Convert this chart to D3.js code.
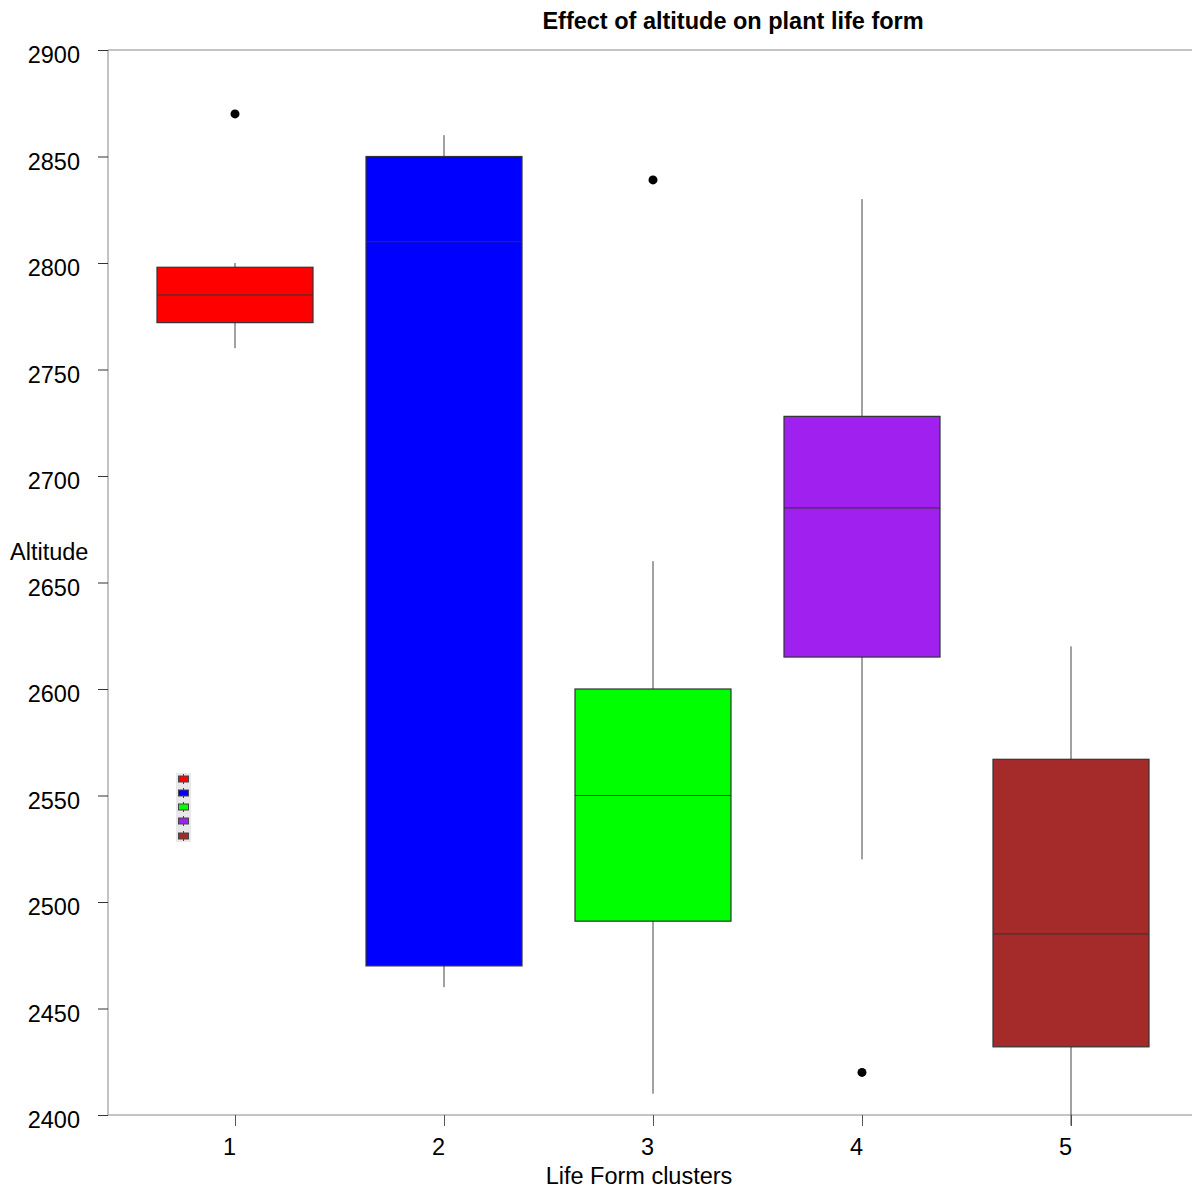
<!DOCTYPE html>
<html lang="en">
  <head>
    <meta charset="UTF-8" />
    <title>Effect of altitude on plant life form</title>
    <script src="https://cdn.jsdelivr.net/npm/d3@7"></script>
    <style>
      body { margin: 0; background: #fff; }
      text { font-family: "Liberation Sans", Arial, sans-serif; }
    </style>
  </head>
  <body>
    <div id="chart"></div>
    <script>
      // data
      let clusters = ["1", "2", "3", "4", "5"];
      let colors = ["#ff0000", "#0000ff", "#00ff00", "#a020f0", "#a52a2a"];
      let q1 = [2772, 2470, 2491, 2615, 2432];
      let medians = [2785, 2810, 2550, 2685, 2485];
      let q3 = [2798, 2850, 2600, 2728, 2567];
      let whiskLow = [2760, 2460, 2410, 2520, 2395];
      let whiskHigh = [2800, 2860, 2660, 2830, 2620];
      let outliers = [
        { c: "1", v: 2870 },
        { c: "3", v: 2839 },
        { c: "4", v: 2420 },
      ];
      let yTicks = [2400, 2450, 2500, 2550, 2600, 2650, 2700, 2750, 2800, 2850, 2900];

      let W = 1192, H = 1188;
      let plotLeft = 108, plotTop = 50, plotBottom = 1115;

      let svg = d3.select("#chart").append("svg")
        .attr("width", W).attr("height", H);

      let y = d3.scaleLinear().domain([2400, 2900]).range([plotBottom, plotTop]);
      let x = d3.scalePoint().domain(clusters).range([235, 1071]);
      let halfW = 78;

      // frame lines (left, top, bottom)
      svg.append("line").attr("x1", plotLeft).attr("x2", plotLeft).attr("y1", plotTop).attr("y2", plotBottom)
        .attr("stroke", "#888");
      svg.append("line").attr("x1", plotLeft).attr("x2", W).attr("y1", plotTop).attr("y2", plotTop)
        .attr("stroke", "#888");
      svg.append("line").attr("x1", plotLeft).attr("x2", W).attr("y1", plotBottom).attr("y2", plotBottom)
        .attr("stroke", "#888");

      // y axis
      let yAxis = svg.append("g").attr("transform", `translate(${plotLeft},0)`)
        .call(d3.axisLeft(y).tickValues(yTicks).tickSize(10).tickPadding(18).tickFormat(d3.format("d")));
      yAxis.select(".domain").remove();
      yAxis.selectAll("line").attr("stroke", "#333");
      yAxis.selectAll("text").attr("font-size", 23.5).attr("fill", "#000")
        .attr("dy", "0.55em")
        .attr("font-family", "Liberation Sans, Arial, sans-serif");

      // x axis
      let xAxis = svg.append("g").attr("transform", `translate(0,${plotBottom})`)
        .call(d3.axisBottom(x).tickSize(11).tickPadding(12));
      xAxis.select(".domain").remove();
      xAxis.selectAll("line").attr("stroke", "#555");
      xAxis.selectAll("text").attr("font-size", 23.5).attr("fill", "#000")
        .attr("dx", -6)
        .attr("font-family", "Liberation Sans, Arial, sans-serif");

      // boxes
      let boxes = svg.append("g").selectAll("g").data(clusters).enter().append("g");

      boxes.append("line")
        .attr("x1", d => x(d)).attr("x2", d => x(d))
        .attr("y1", (d, i) => y(whiskHigh[i])).attr("y2", (d, i) => y(whiskLow[i]))
        .attr("stroke", "#444");

      boxes.append("rect")
        .attr("x", d => x(d) - halfW).attr("width", halfW * 2)
        .attr("y", (d, i) => y(q3[i]))
        .attr("height", (d, i) => y(q1[i]) - y(q3[i]))
        .attr("fill", (d, i) => colors[i])
        .attr("stroke", "#333").attr("stroke-width", 1.2);

      boxes.append("line")
        .attr("x1", d => x(d) - halfW).attr("x2", d => x(d) + halfW)
        .attr("y1", (d, i) => y(medians[i])).attr("y2", (d, i) => y(medians[i]))
        .attr("stroke", "#333");

      svg.append("g").selectAll("circle").data(outliers).enter().append("circle")
        .attr("cx", d => x(d.c)).attr("cy", d => y(d.v))
        .attr("r", 4.5).attr("fill", "#000");

      // small legend glyphs
      let leg = svg.append("g");
      leg.append("rect").attr("x", 176).attr("y", 773).attr("width", 15).attr("height", 69)
        .attr("fill", "#e8e8e8");
      let legY = [779, 793, 807, 821, 836];
      let lg = leg.selectAll("g.item").data(colors).enter().append("g").attr("class", "item");
      lg.append("line").attr("x1", 183.5).attr("x2", 183.5)
        .attr("y1", (d, i) => legY[i] - 5).attr("y2", (d, i) => legY[i] + 5)
        .attr("stroke", "#444");
      lg.append("rect").attr("x", 178.5).attr("width", 10)
        .attr("y", (d, i) => legY[i] - 3).attr("height", 6)
        .attr("fill", d => d).attr("stroke", "#444");

      // titles
      svg.append("text").attr("x", 733).attr("y", 29).attr("text-anchor", "middle")
        .attr("font-size", 23.5).attr("font-weight", "bold").text("Effect of altitude on plant life form");
      svg.append("text").attr("x", 10).attr("y", 560).attr("font-size", 23.5).text("Altitude");
      svg.append("text").attr("x", 639).attr("y", 1184).attr("text-anchor", "middle")
        .attr("font-size", 23.5).text("Life Form clusters");
    </script>
  </body>
</html>
